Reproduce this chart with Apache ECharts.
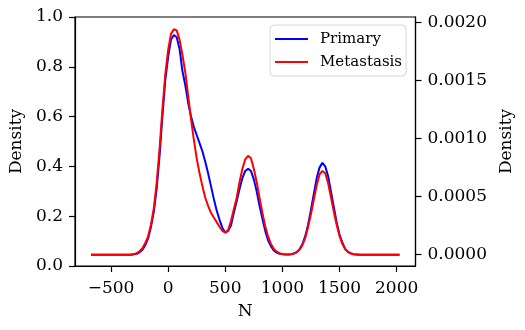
<!DOCTYPE html>
<html>
<head>
<meta charset="utf-8">
<script src="https://cdn.jsdelivr.net/npm/echarts@6/dist/echarts.min.js"></script>
<style>
  html, body { margin: 0; padding: 0; background: #fff; }
  #chart { width: 525px; height: 330px; }
</style>
</head>
<body>
<div id="chart"></div>
<script>
// Evaluation grid for the density curves (N)
const nGrid = [
  -675, -650, -625, -600, -575, -550, -525, -500, -475, -450, -425, -400, -375, -350, -325,
  -300, -275, -250, -225, -200, -175, -150, -125, -100, -75, -50, -25,
  0, 25, 50, 75, 100, 125, 150, 175, 200, 225, 250, 275, 300, 325, 350, 375, 400, 425, 450, 475,
  500, 525, 550, 575, 600, 625, 650, 675, 700, 725, 750, 775, 800, 825, 850, 875, 900, 925, 950, 975,
  1000, 1025, 1050, 1075, 1100, 1125, 1150, 1175, 1200, 1225, 1250, 1275, 1300, 1325, 1350, 1375,
  1400, 1425, 1450, 1475, 1500, 1525, 1550, 1575, 1600, 1625, 1650,
  1675, 1700, 1725, 1750, 1775, 1800, 1825, 1850, 1875, 1900, 1925, 1950, 1975, 2000, 2025
];

// Kernel density of N, primary tumours
const primary = [
  0, 0, 0, 0, 0, 0, 0, 0, 0, 0, 0, 0, 0, 0, 0,
  0.000003, 0.000008, 0.00002, 0.000042, 0.000082, 0.00014, 0.00024, 0.00037, 0.00057, 0.00085, 0.00119, 0.0015,
  0.0017, 0.00185, 0.00189, 0.00187, 0.00177, 0.00158, 0.00146, 0.00131, 0.00119, 0.0011, 0.00103, 0.00096,
  0.00089, 0.0008, 0.0007, 0.00059, 0.00048, 0.00038, 0.0003, 0.00023,
  0.00019, 0.000205, 0.00025, 0.00036, 0.00046, 0.000565, 0.00066, 0.00072, 0.00074, 0.00072, 0.000648, 0.000545,
  0.00042, 0.00031, 0.000205, 0.000123, 0.000072, 0.000036, 0.000018, 0.000008,
  0.000004, 0.000002, 0.000002, 0.000004, 0.00001, 0.000022, 0.000046, 0.00009, 0.000159, 0.000257, 0.000385,
  0.000523, 0.000657, 0.000749, 0.00079, 0.00076, 0.000677, 0.000544, 0.00041, 0.000277, 0.000174, 0.000103, 0.00005,
  0.000024, 0.000011, 0.000004, 0.000002,
  0, 0, 0, 0, 0, 0, 0, 0, 0, 0, 0, 0, 0, 0, 0
];

// Kernel density of N, metastases
const metastasis = [
  0, 0, 0, 0, 0, 0, 0, 0, 0, 0, 0, 0, 0, 0, 0,
  0.000005, 0.000012, 0.00003, 0.000055, 0.0001, 0.000158, 0.00026, 0.0004, 0.00062, 0.00091, 0.00125, 0.00155,
  0.00176, 0.0019, 0.00194, 0.00193, 0.00185, 0.00172, 0.00157, 0.00137, 0.00117, 0.00099, 0.00083, 0.0007,
  0.00059, 0.00049, 0.00042, 0.00036, 0.00032, 0.00028, 0.00024, 0.000205,
  0.00019, 0.00021, 0.00029, 0.00039, 0.00049, 0.000625, 0.00074, 0.00082, 0.00085, 0.00083, 0.00074, 0.000625,
  0.00049, 0.00036, 0.000245, 0.000155, 0.000092, 0.00005, 0.000026, 0.000013,
  0.000006, 0.000003, 0.000002, 0.000004, 0.000009, 0.00002, 0.000042, 0.000082, 0.000144, 0.000237, 0.00035,
  0.000473, 0.000597, 0.00069, 0.00072, 0.0007, 0.000617, 0.000494, 0.00037, 0.000257, 0.00016, 0.000093, 0.000046,
  0.000022, 0.00001, 0.000004, 0.000002,
  0, 0, 0, 0, 0, 0, 0, 0, 0, 0, 0, 0, 0, 0, 0
];

const seriesNames = ['Primary', 'Metastasis'];
const xTicks = [-500, 0, 500, 1000, 1500, 2000];
const rightTicks = [0, 0.0005, 0.001, 0.0015, 0.002];

const FONT = 'DejaVu Serif';
const INK = '#000';

function pairs(ys) {
  return nGrid.map((n, i) => [n, ys[i]]);
}

const chart = echarts.init(document.getElementById('chart'), null, { renderer: 'canvas' });

chart.setOption({
  animation: false,
  backgroundColor: '#fff',
  textStyle: { fontFamily: FONT, color: INK },
  grid: {
    left: 75, right: 109.5, top: 17, bottom: 64,
    show: true, borderColor: INK, borderWidth: 1.2, backgroundColor: 'transparent'
  },
  legend: {
    data: seriesNames,
    orient: 'vertical',
    left: 270, top: 25,
    icon: 'rect', itemWidth: 33, itemHeight: 2,
    itemGap: 5,
    padding: [5, 4, 5, 5],
    borderColor: '#d6d6d6', borderWidth: 1, borderRadius: 4,
    backgroundColor: 'rgba(255,255,255,0.8)',
    textStyle: { fontFamily: FONT, fontSize: 15, color: INK, padding: [0, 0, 0, 7], lineHeight: 18 }
  },
  xAxis: {
    type: 'value',
    min: -815, max: 2165,
    name: 'N', nameLocation: 'middle', nameGap: 37,
    nameTextStyle: { fontFamily: FONT, fontSize: 17, color: INK },
    axisLine: { show: true, onZero: false, lineStyle: { color: INK, width: 1.2 } },
    axisTick: { show: true, length: 6, lineStyle: { color: INK, width: 1.2 }, customValues: xTicks },
    axisLabel: {
      fontFamily: FONT, fontSize: 17, color: INK, margin: 14,
      customValues: xTicks,
      formatter: v => (v < 0 ? '\u2212' + Math.abs(v) : String(v))
    },
    splitLine: { show: false }
  },
  yAxis: [
    {
      type: 'value', position: 'left',
      min: 0, max: 1, interval: 0.2,
      name: 'Density', nameLocation: 'middle', nameRotate: 90, nameGap: 45,
      nameTextStyle: { fontFamily: FONT, fontSize: 17, color: INK },
      axisLine: { show: true, onZero: false, lineStyle: { color: INK, width: 1.2 } },
      axisTick: { show: true, length: 6, lineStyle: { color: INK, width: 1.2 } },
      axisLabel: { fontFamily: FONT, fontSize: 17, color: INK, margin: 12, formatter: v => v.toFixed(1) },
      splitLine: { show: false }
    },
    {
      type: 'value', position: 'right',
      min: -0.0000974, max: 0.002045,
      name: 'Density', nameLocation: 'middle', nameRotate: 90, nameGap: 70,
      nameTextStyle: { fontFamily: FONT, fontSize: 17, color: INK },
      axisLine: { show: true, onZero: false, lineStyle: { color: INK, width: 1.2 } },
      axisTick: { show: true, length: 6, lineStyle: { color: INK, width: 1.2 }, customValues: rightTicks },
      axisLabel: {
        fontFamily: FONT, fontSize: 17, color: INK, margin: 12,
        customValues: rightTicks,
        formatter: v => v.toFixed(4)
      },
      splitLine: { show: false }
    }
  ],
  series: [
    {
      name: seriesNames[0], type: 'line', yAxisIndex: 1,
      data: pairs(primary), showSymbol: false, smooth: false,
      lineStyle: { color: '#0000ff', width: 2 }, itemStyle: { color: '#0000ff' }
    },
    {
      name: seriesNames[1], type: 'line', yAxisIndex: 1,
      data: pairs(metastasis), showSymbol: false, smooth: false,
      lineStyle: { color: '#ff0000', width: 2 }, itemStyle: { color: '#ff0000' }
    }
  ]
});
</script>
</body>
</html>
